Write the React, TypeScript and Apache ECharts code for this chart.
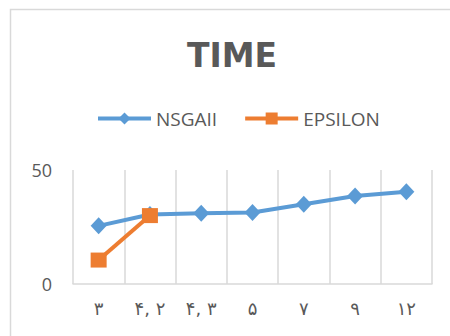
import React, { useEffect, useRef } from "react";
import * as echarts from "echarts";

const categories = ["۳", "۴, ۲", "۴, ۳", "۵", "۷", "۹", "۱۲"];
const nsgaii = [25.5, 30.5, 31, 31.4, 35, 38.6, 40.5];
const epsilon = [10.5, 30, null, null, null, null, null];
const yTicks = [0, 50];

export default function App() {
  const ref = useRef<HTMLDivElement>(null);
  useEffect(() => {
    const chart = echarts.init(ref.current!, null, { renderer: "svg" });
    const gray = "#595959";
    chart.setOption({
      animation: false,
      backgroundColor: "#ffffff",
      title: {
        text: "TIME",
        left: 227,
        textAlign: "center",
        top: 34,
        textStyle: { fontFamily: "DejaVu Sans", fontWeight: "bold", fontSize: 33, color: gray },
      },
      graphic: [
        {
          type: "rect",
          shape: { x: 10.5, y: 9.5, width: 460, height: 340 },
          style: { fill: "none", stroke: "#d9d9d9", lineWidth: 1.5 },
          silent: true,
        },
      ],
      legend: {
        top: 104,
        left: 91,
        itemWidth: 53,
        itemHeight: 15,
        itemGap: 26,
        lineStyle: { width: 4 },
        textStyle: { fontFamily: "Open Sans", fontSize: 19, color: gray },
        data: ["NSGAII", "EPSILON"],
      },
      grid: { left: 73, right: 18, top: 170, bottom: 52 },
      xAxis: {
        type: "category",
        data: categories,
        boundaryGap: true,
        axisLine: { lineStyle: { color: "#d9d9d9", width: 1.5 } },
        axisTick: { show: false },
        splitLine: { show: true, interval: 0, lineStyle: { color: "#d9d9d9", width: 1.5 } },
        axisLabel: { interval: 0, margin: 15, fontFamily: "DejaVu Sans", fontSize: 18, color: gray },
      },
      yAxis: {
        type: "value",
        min: yTicks[0],
        max: yTicks[1],
        interval: 50,
        axisLine: { show: false },
        axisTick: { show: false },
        splitLine: { show: false },
        axisLabel: { margin: 21, fontFamily: "Open Sans", fontSize: 18, color: gray },
      },
      series: [
        {
          name: "NSGAII",
          type: "line",
          data: nsgaii,
          symbol: "diamond",
          symbolSize: [16, 17],
          itemStyle: { color: "#5B9BD5" },
          lineStyle: { color: "#5B9BD5", width: 4 },
        },
        {
          name: "EPSILON",
          type: "line",
          data: epsilon,
          symbol: "rect",
          symbolSize: [16, 15],
          itemStyle: { color: "#ED7D31" },
          lineStyle: { color: "#ED7D31", width: 4 },
        },
      ],
    });
    return () => chart.dispose();
  }, []);
  return (
    <div
      ref={ref}
      style={{ position: "fixed", left: 0, top: 0, width: 450, height: 336 }}
    />
  );
}
